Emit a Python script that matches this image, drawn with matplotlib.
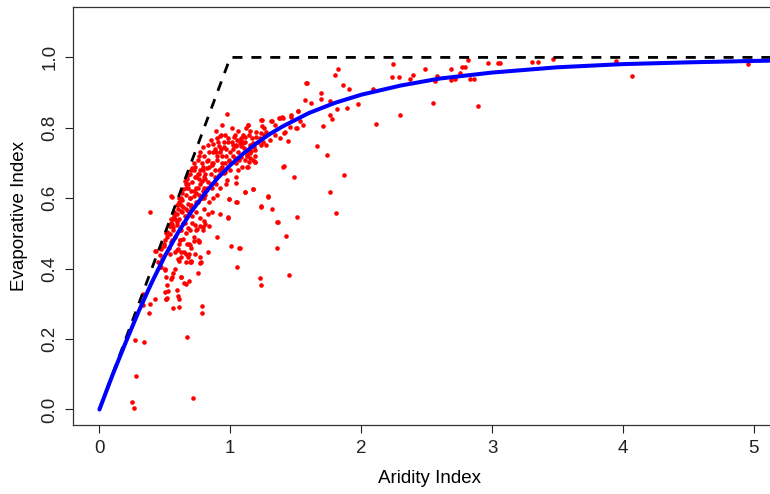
import matplotlib
matplotlib.use("Agg")
import matplotlib.pyplot as plt

# observed catchments, aridity index (PET/P) vs evaporative index (ET/P)
# sparse arid points, low evaporative index
ai_low = [1.05, 0.78, 0.78, 0.67, 0.27, 0.34, 0.276, 0.716, 0.248, 0.266, 0.38, 0.385, 0.424, 0.563, 0.607,
          0.505, 0.52, 0.60, 0.607, 0.594, 0.50, 0.525, 0.52, 0.508, 0.546, 0.558, 0.62, 0.645, 0.66, 0.686,
          0.752, 0.56, 0.576, 0.498, 0.467, 0.607, 0.69, 0.77, 0.334, 0.334, 0.508, 0.622, 0.462, 0.475, 0.429,
          0.385]
ei_low = [0.404, 0.294, 0.273, 0.205, 0.196, 0.193, 0.095, 0.034, 0.021, 0.005, 0.275, 0.299, 0.315, 0.287, 0.29,
          0.313, 0.318, 0.323, 0.314, 0.34, 0.335, 0.337, 0.355, 0.376, 0.371, 0.375, 0.377, 0.36, 0.357, 0.364,
          0.389, 0.389, 0.399, 0.397, 0.404, 0.421, 0.418, 0.415, 0.328, 0.296, 0.315, 0.375, 0.404, 0.428, 0.45,
          0.561]

# middle band below the dense cloud
ai_mid = [0.55, 0.426, 0.495, 1.047, 0.99, 0.92, 0.986, 0.895, 1.004, 1.065, 0.833, 0.762, 0.724, 0.686, 0.788,
          0.742, 0.614, 0.525, 0.556, 0.59, 0.627, 0.686, 0.696, 0.775, 0.597, 0.50, 0.66, 0.538, 0.576, 0.627,
          0.645, 0.678, 0.703, 0.729, 0.772, 0.754, 0.69, 0.665, 0.551, 0.614, 0.538, 0.614, 0.69, 0.729, 0.792,
          0.805, 0.563, 0.589]
ei_mid = [0.606, 0.45, 0.464, 0.589, 0.599, 0.556, 0.547, 0.49, 0.464, 0.458, 0.447, 0.478, 0.478, 0.47, 0.511,
          0.513, 0.482, 0.501, 0.526, 0.453, 0.447, 0.442, 0.423, 0.418, 0.428, 0.399, 0.418, 0.442, 0.447, 0.432,
          0.447, 0.432, 0.418, 0.442, 0.432, 0.48, 0.466, 0.442, 0.48, 0.48, 0.499, 0.509, 0.509, 0.523, 0.518,
          0.528, 0.518, 0.532]

# scattered points right of the cloud
ai_right = [1.485, 1.869, 1.113, 1.174, 1.29, 1.765, 1.235, 1.319, 1.808, 1.51, 1.357, 1.424, 1.355, 1.073,
            1.449, 1.228, 1.235]
ei_right = [0.661, 0.666, 0.618, 0.625, 0.607, 0.618, 0.577, 0.569, 0.559, 0.548, 0.533, 0.492, 0.46, 0.458,
            0.383, 0.374, 0.355]

# points along the curve between AI 0.8 and 2.1
ai_upper = [1.826, 1.798, 1.589, 1.859, 1.907, 1.691, 1.691, 1.571, 1.62, 1.76, 1.973, 1.815, 1.892, 1.515,
            1.467, 1.467, 1.76, 1.78, 2.111, 1.395, 1.37, 1.317, 1.24, 1.139, 1.243, 1.34, 1.51, 1.559, 1.711,
            1.2, 1.271, 1.418, 1.113, 1.164, 1.307, 1.378, 1.441, 1.174, 1.231, 1.663, 1.085, 1.192, 1.149, 1.742,
            1.111, 1.19, 1.128, 1.406, 1.15, 1.1, 0.973, 0.94, 1.136, 1.58, 0.826, 0.92, 0.907, 0.915, 1.034,
            1.05, 1.017, 1.047, 1.073, 1.103, 1.124, 1.149, 1.195, 1.238, 1.256, 1.25, 1.271, 1.34, 1.408, 1.454,
            1.505, 1.53, 1.314, 1.378, 1.403, 1.518, 1.238, 1.174, 1.136, 1.187, 1.408, 1.289, 1.238, 1.365,
            1.174, 1.11, 1.047, 1.047, 1.052, 0.991, 0.983, 0.966, 0.976, 0.95, 0.935, 1.034, 1.085, 1.124, 1.144,
            0.551, 2.09]
ei_upper = [0.968, 0.949, 0.927, 0.923, 0.909, 0.898, 0.882, 0.88, 0.871, 0.876, 0.867, 0.853, 0.855, 0.849,
            0.837, 0.83, 0.837, 0.825, 0.81, 0.831, 0.827, 0.818, 0.823, 0.808, 0.804, 0.807, 0.80, 0.807, 0.805,
            0.787, 0.787, 0.787, 0.773, 0.77, 0.766, 0.77, 0.762, 0.756, 0.751, 0.749, 0.747, 0.737, 0.728, 0.723,
            0.709, 0.703, 0.689, 0.69, 0.714, 0.756, 0.839, 0.809, 0.809, 0.926, 0.75, 0.776, 0.761, 0.747, 0.78,
            0.765, 0.751, 0.747, 0.756, 0.742, 0.733, 0.751, 0.775, 0.785, 0.799, 0.761, 0.751, 0.78, 0.785, 0.801,
            0.799, 0.818, 0.818, 0.828, 0.828, 0.847, 0.823, 0.709, 0.69, 0.704, 0.691, 0.604, 0.575, 0.532,
            0.625, 0.618, 0.642, 0.661, 0.589, 0.599, 0.545, 0.64, 0.653, 0.672, 0.688, 0.713, 0.718, 0.723, 0.704,
            0.604, 0.909]

# dense cloud around AI 0.45-1.25
ai_core = [0.80, 0.84, 0.88, 0.92, 0.95, 0.86, 0.90, 0.97, 1.00, 0.78, 0.82, 0.94, 0.76, 0.99, 1.02, 0.87,
           0.70, 0.73, 0.76, 0.79, 0.82, 0.85, 0.88, 0.91, 0.74, 0.68, 0.80, 0.86, 0.93, 0.96, 0.72, 0.71,
           0.66, 0.65, 0.68, 0.71, 0.74, 0.77, 0.80, 0.83, 0.86, 0.89, 0.64, 0.70, 0.76, 0.92, 0.67, 0.81,
           0.61, 0.62, 0.63, 0.66, 0.69, 0.72, 0.75, 0.78, 0.81, 0.84, 0.87, 0.62, 0.68, 0.74, 0.63, 0.90,
           0.57, 0.60, 0.59, 0.62, 0.65, 0.68, 0.71, 0.74, 0.77, 0.80, 0.58, 0.64, 0.70, 0.83, 0.59, 0.86,
           0.54, 0.55, 0.56, 0.59, 0.62, 0.65, 0.68, 0.71, 0.74, 0.77, 0.55, 0.61, 0.80, 0.52, 0.66, 0.84,
           0.50, 0.49, 0.52, 0.55, 0.58, 0.61, 0.64, 0.67, 0.72, 0.47, 0.53, 0.60, 0.70, 0.76,
           0.61, 0.66, 0.69, 0.72, 0.75, 0.77, 0.79, 0.57, 0.54, 0.51, 0.46, 0.45, 0.47, 0.56,
           0.90, 0.96, 0.98, 1.03, 1.06, 1.10, 1.12, 1.08, 1.15, 1.01, 0.89, 0.85,
           1.00, 1.04, 1.07, 1.09, 1.13, 1.16, 1.06, 1.18, 1.21, 1.19, 1.23, 1.26]
ei_core = [0.72, 0.73, 0.74, 0.73, 0.745, 0.70, 0.71, 0.72, 0.73, 0.70, 0.705, 0.70, 0.72, 0.705, 0.74, 0.755,
           0.68, 0.69, 0.67, 0.68, 0.685, 0.67, 0.68, 0.665, 0.66, 0.665, 0.66, 0.695, 0.685, 0.675, 0.70, 0.685,
           0.64, 0.65, 0.63, 0.645, 0.63, 0.64, 0.63, 0.645, 0.63, 0.64, 0.625, 0.62, 0.655, 0.63, 0.655, 0.655,
           0.60, 0.60, 0.595, 0.61, 0.60, 0.605, 0.59, 0.60, 0.61, 0.59, 0.60, 0.58, 0.585, 0.615, 0.615, 0.61,
           0.56, 0.57, 0.555, 0.565, 0.55, 0.565, 0.55, 0.56, 0.545, 0.57, 0.54, 0.575, 0.575, 0.555, 0.58, 0.56,
           0.52, 0.53, 0.51, 0.525, 0.51, 0.53, 0.515, 0.53, 0.51, 0.52, 0.54, 0.54, 0.535, 0.505, 0.50, 0.52,
           0.48, 0.47, 0.49, 0.475, 0.49, 0.47, 0.485, 0.47, 0.49, 0.455, 0.46, 0.455, 0.46, 0.475,
           0.59, 0.63, 0.67, 0.68, 0.71, 0.73, 0.745, 0.55, 0.52, 0.50, 0.44, 0.42, 0.46, 0.54,
           0.77, 0.78, 0.76, 0.775, 0.79, 0.78, 0.80, 0.765, 0.79, 0.80, 0.79, 0.765,
           0.68, 0.70, 0.71, 0.69, 0.72, 0.735, 0.68, 0.745, 0.76, 0.72, 0.77, 0.78]

# extra points filling the solid centre of the cloud
ai_dense = [0.72, 0.75, 0.78, 0.81, 0.84, 0.87, 0.90, 0.93, 0.73, 0.77, 0.83, 0.89, 0.95, 0.98, 0.70, 0.79,
            0.85, 0.91, 0.96, 0.66, 0.69, 0.74, 0.80, 0.88, 0.94, 0.64, 0.67, 0.71, 0.76, 0.82, 0.97, 1.01,
            1.04, 1.08, 1.11, 1.14, 0.99, 1.02, 1.06, 0.93, 0.87, 0.63, 0.68, 0.75, 0.79]
ei_dense = [0.62, 0.63, 0.65, 0.67, 0.69, 0.70, 0.72, 0.74, 0.66, 0.68, 0.71, 0.73, 0.76, 0.77, 0.58, 0.62,
            0.64, 0.68, 0.70, 0.57, 0.60, 0.59, 0.60, 0.66, 0.72, 0.53, 0.55, 0.57, 0.61, 0.63, 0.74, 0.76,
            0.75, 0.77, 0.76, 0.78, 0.71, 0.72, 0.73, 0.78, 0.73, 0.56, 0.64, 0.67, 0.69]

# humid end, close to the water limit
ai_humid = [2.246, 2.235, 2.291, 2.296, 2.376, 2.398, 2.49, 2.546, 2.561, 2.579, 2.686, 2.686, 2.716, 2.752,
            2.773, 2.792, 2.813, 2.834, 2.861, 2.895, 2.966, 3.044, 3.304, 3.353, 3.462, 3.057, 3.948, 4.07, 4.956]
ei_humid = [0.981, 0.945, 0.945, 0.837, 0.939, 0.951, 0.968, 0.871, 0.934, 0.947, 0.968, 0.935, 0.938, 0.956,
            0.973, 0.973, 0.994, 0.94, 0.94, 0.862, 0.983, 0.983, 0.988, 0.988, 0.996, 0.984, 0.99, 0.947, 0.981]

# Budyko curve
curve_ai = [0.0, 0.05, 0.1, 0.2, 0.3, 0.4, 0.5, 0.6, 0.7, 0.8, 0.9, 1.0, 1.1, 1.2, 1.3, 1.4, 1.6, 1.8, 2.0,
            2.3, 2.6, 3.0, 3.5, 4.0, 4.5, 5.0, 5.3]
curve_ei = [0.0, 0.049, 0.098, 0.190, 0.279, 0.361, 0.436, 0.502, 0.561, 0.611, 0.656, 0.694, 0.727, 0.756,
            0.782, 0.804, 0.842, 0.871, 0.894, 0.920, 0.940, 0.957, 0.972, 0.981, 0.986, 0.990, 0.992]

# energy / water limits
limit_ai = [0.0, 1.0, 5.3]
limit_ei = [0.0, 1.0, 1.0]

plt.rcParams["font.family"] = ["Liberation Sans", "DejaVu Sans"]

fig = plt.figure(figsize=(7.7, 4.94), dpi=100)
ax = fig.add_axes([0.0948, 0.1397, 0.927, 0.8467])

pts_x = ai_low + ai_mid + ai_right + ai_upper + ai_core + ai_dense + ai_humid
pts_y = ei_low + ei_mid + ei_right + ei_upper + ei_core + ei_dense + ei_humid
ax.plot(pts_x, pts_y, "o", color="#ff0000", ms=3.3, mew=0, zorder=2)
ax.plot(limit_ai, limit_ei, color="black", lw=2.0, ls=(0, (3.6, 3.2)), zorder=3)
ax.plot(curve_ai, curve_ei, color="#0000ff", lw=2.9, solid_capstyle="round", zorder=4)

ax.set_xlim(-0.202, 5.252)
ax.set_ylim(-0.044, 1.144)
ax.set_xticks([0, 1, 2, 3, 4, 5])
ax.set_xticklabels(["0", "1", "2", "3", "4", "5"])
ax.set_yticks([0.0, 0.2, 0.4, 0.6, 0.8, 1.0])
ax.set_yticklabels(["0.0", "0.2", "0.4", "0.6", "0.8", "1.0"], rotation=90, va="center")
ax.tick_params(direction="out", length=5.5, width=0.8, labelsize=13.5, pad=5, colors="#222222")
for s in ax.spines.values():
    s.set_linewidth(0.9)
    s.set_color("#333333")
ax.set_xlabel("Aridity Index", fontsize=13.5, labelpad=10)
ax.set_ylabel("Evaporative Index", fontsize=13.5, labelpad=10)

fig.savefig("out.png", dpi=100)
